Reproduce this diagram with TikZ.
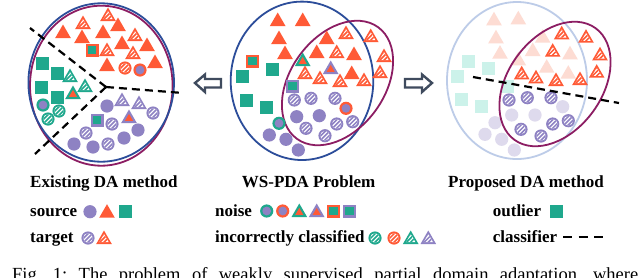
\documentclass[tikz,border=0pt]{standalone}
\usepackage{fontspec}
\setmainfont{Liberation Serif}
\definecolor{OR}{HTML}{FF5A36}
\definecolor{GR}{HTML}{1FA88D}
\definecolor{PU}{HTML}{8E82C3}
\definecolor{BL}{HTML}{2C4D9A}
\definecolor{MR}{HTML}{8C1D63}
\definecolor{LBL}{HTML}{BDCCE8}
\definecolor{LOR}{HTML}{FDDCD3}
\definecolor{LGR}{HTML}{CCF2EA}
\definecolor{LPU}{HTML}{DEDAED}
\definecolor{AR}{HTML}{3F4B5E}
\tikzset{
  pics/stri/.style={code={\fill[#1] (0,-7.5)--(7.8,6)--(-7.8,6)--cycle;}},
  pics/btri/.style n args={2}{code={\fill[#2] (0,-7.5)--(7.8,6)--(-7.8,6)--cycle;
      \fill[#1] (0,-3.1)--(4,3.8)--(-4,3.8)--cycle;}},
  pics/htri/.style={code={\fill[#1] (0,-7.5)--(7.8,6)--(-7.8,6)--cycle;
      \begin{scope}\clip (0,-3.9)--(4.7,4.2)--(-4.7,4.2)--cycle;
      \fill[white] (-8,-8) rectangle (8,8);
      \foreach \xx in {-4.2,0,4.2} \draw[#1,line width=1.5pt] (\xx-8,8)--(\xx+8,-8);
      \end{scope}}},
  pics/ci/.style={code={\fill[#1] (0,0) circle (6.6pt);}},
  pics/bci/.style n args={2}{code={\fill[#2] (0,0) circle (6.6pt);\fill[#1] (0,0) circle (4.4pt);}},
  pics/hci/.style={code={\fill[#1] (0,0) circle (6.6pt);
      \begin{scope}\clip (0,0) circle (4.8pt);
      \fill[white] (-7,-7) rectangle (7,7);
      \foreach \xx in {-4.2,0,4.2} \draw[#1,line width=1.5pt] (\xx-8,8)--(\xx+8,-8);
      \end{scope}}},
  pics/sq/.style={code={\fill[#1] (-6.5,-6.5) rectangle (6.5,6.5);}},
  pics/bsq/.style n args={2}{code={\fill[#2] (-6.5,-6.5) rectangle (6.5,6.5);\fill[#1] (-4.3,-4.3) rectangle (4.3,4.3);}},
  ell/.style={line width=1.8pt},
  cls/.style={line width=2.2pt, dash pattern=on 8pt off 5pt},
  blockarrow/.style={draw=AR, line width=2.4pt, line join=miter, fill=white},
  lab/.style={anchor=base west, inner sep=0pt, font=\fontsize{17}{20}\selectfont\bfseries},
}
% tilted ellipse: centre (#1,#2), major axis up-right at 54 degrees (a=69, b=47)
\newcommand\tiltell[2]{\pgfpathellipse{\pgfpointxy{#1}{#2}}{\pgfpointxy{40.6}{-55.8}}{\pgfpointxy{38.0}{27.6}}\pgfusepath{draw}}
\begin{document}
\begin{tikzpicture}[x=1pt,y=-1pt]
\useasboundingbox (0,0) rectangle (640,277);
\clip (0,0) rectangle (640,277);
\fill[white] (0,0) rectangle (640,277);

% ---------------- Panel 1 ----------------
\draw[ell,MR] (101.3,85.7) ellipse [x radius=71.3pt, y radius=80pt];
\draw[ell,BL] (101.2,82.5) ellipse [x radius=72.8pt, y radius=79.2pt];
\foreach \p in {(63,32),(82,37),(103,32),(118,25),(122,43),(147,45),(107,65),(155,62)} \pic at \p {stri=OR};
\foreach \p in {(108,15),(83,23),(135,35),(107,50),(133,53)} \pic at \p {htri=OR};
\pic at (92,50) {bsq={GR}{OR}};
\pic at (125,68) {hci=OR};
\pic at (140,70) {bci={PU}{OR}};
\foreach \p in {(42,63),(57,73),(41,87),(57,97)} \pic at \p {sq=GR};
\foreach \p in {(70,76),(85,86)} \pic at \p {htri=GR};
\pic at (73,93) {btri={OR}{GR}};
\pic at (43,105) {bci={PU}{GR}};
\foreach \p in {(59,111),(48,119)} \pic at \p {hci=GR};
\foreach \p in {(107,106),(138,130),(124,138),(74,144),(93,147)} \pic at \p {ci=PU};
\foreach \p in {(122,100),(139,103)} \pic at \p {htri=PU};
\foreach \p in {(153,113),(112,124),(86,133),(108,144)} \pic at \p {hci=PU};
\pic at (129,117) {btri={OR}{PU}};
\pic at (97,120) {bsq={GR}{PU}};
\coordinate (j) at (106,87);
\coordinate (j1) at (30,28);
\coordinate (j2) at (183,93);
\coordinate (j3) at (35,154);
\draw[cls] (j) -- (j1);
\draw[cls] (j) -- (j2);
\draw[cls] (j) -- (j3);

% arrows
\draw[blockarrow] (195,83)--(205,74.5)--(205,79)--(221,79)--(221,87.5)--(205,87.5)--(205,92)--cycle;
\draw[blockarrow] (432,83)--(422,74.5)--(422,79)--(405,79)--(405,87.5)--(422,87.5)--(422,92)--cycle;

% ---------------- Panel 2 ----------------
\draw[ell,BL] (302,80.8) ellipse [x radius=71.3pt, y radius=79.2pt];
\begin{scope}[ell,draw=MR]\tiltell{337.5}{83}\end{scope}
\foreach \p in {(277.7,20),(302.7,20),(279,38),(285,53),(326.7,38),(316.7,52),(354,54),(351.7,73)} \pic at \p {stri=OR};
\foreach \p in {(346,33),(370.7,36),(336.7,52),(384,56),(305,73),(320,78),(340,81),(364,80),(380,72)} \pic at \p {htri=OR};
\pic at (302.7,60) {btri={OR}{GR}};
\pic at (330.7,68) {btri={OR}{PU}};
\pic at (252.3,61) {bsq={GR}{OR}};
\pic at (292.7,86) {bsq={GR}{PU}};
\foreach \p in {(272.7,69),(242.3,76.7),(246.7,100),(266,107.7)} \pic at \p {sq=GR};
\foreach \p in {(294.3,100),(311,98.3),(335,98.3),(306,128.3),(336.7,124),(352.7,121.7),(325,135.7)} \pic at \p {hci=PU};
\foreach \p in {(296.7,116.7),(319.3,115.7),(269.3,135),(286,139.3),(298.3,150)} \pic at \p {ci=PU};
\pic at (279,123.3) {bci={PU}{GR}};
\pic at (346,108.3) {bci={PU}{OR}};

% ---------------- Panel 3 ----------------
\foreach \p in {(494,19.3),(518.3,18.3),(496,37.3),(500,52.7),(518.3,59.3),(532.7,50),(542.7,36.7),(570,53.3),(546.7,66.7),(568.3,72.7)} \pic at \p {stri=LOR};
\foreach \p in {(468.3,61),(488.3,68.3),(457.7,76.7),(461.7,99.3),(481.7,106.7),(507.7,86.7)} \pic at \p {sq=LGR};
\foreach \p in {(562.7,106.7),(535,115),(511.7,115),(495,122.7),(485,134.3),(501.7,139.3),(514.3,150)} \pic at \p {ci=LPU};
\draw[ell,LBL] (517,80.5) ellipse [x radius=70pt, y radius=78.5pt];
\begin{scope}[ell,draw=MR]\tiltell{555}{84}\end{scope}
\foreach \p in {(561.7,33.3),(586,36.7),(552.7,50.7),(600,54.3),(521.7,73.3),(536,77.3),(556,80),(580,79),(596.7,71.7)} \pic at \p {htri=OR};
\foreach \p in {(509,100),(527.3,97.7),(551,97.7),(521,129.3),(552.7,124),(568.3,120.7),(541,136)} \pic at \p {hci=PU};
\coordinate (c1) at (473,77);
\coordinate (c2) at (619,103);
\draw[cls] (c1) -- (c2);

% ---------------- Labels ----------------
\node[lab] (t1) at (30,187) {Existing DA method};
\node[lab] (t2) at (241.7,187) {WS-PDA Problem};
\node[lab] (t3) at (448,187) {Proposed DA method};
\node[lab] (ls) at (30,216.7) {source};
\node[lab] (lt) at (30,242) {target};
\node[lab] (ln) at (215,216.7) {noise};
\node[lab] (li) at (215,242) {incorrectly classified};
\node[lab] (lo) at (492.7,216.7) {outlier};
\node[lab] (lc) at (492.7,242) {classifier};

\pic at (90,211.7) {ci=PU};
\pic at (107,211.7) {stri=OR};
\pic at (125,211.7) {sq=GR};
\pic at (88,238) {hci=PU};
\pic at (104,238) {htri=OR};
\pic at (266.7,211) {bci={PU}{GR}};
\pic at (282.7,211) {bci={PU}{OR}};
\pic at (299.3,211) {btri={OR}{GR}};
\pic at (316.7,211) {btri={OR}{PU}};
\pic at (333.3,211) {bsq={GR}{OR}};
\pic at (349.3,211) {bsq={GR}{PU}};
\pic at (375,238) {hci=GR};
\pic at (394,238) {hci=OR};
\pic at (410.7,238) {htri=GR};
\pic at (428.3,238) {htri=PU};
\pic at (556.7,211) {sq=GR};
\coordinate (d1) at (563,236.7);
\coordinate (d2) at (603,236.7);
\draw[line width=2.2pt, dash pattern=on 9pt off 6.5pt] (d1) -- (d2);

% caption (cut by the frame, as in the reference)
\node[anchor=base west, inner sep=0pt] (cap) at (12,280.5) {\fontsize{18.5}{20}\selectfont\frenchspacing\makebox[626pt][s]{Fig. 1: The problem of weakly supervised partial domain adaptation, where}};
\end{tikzpicture}
\end{document}
